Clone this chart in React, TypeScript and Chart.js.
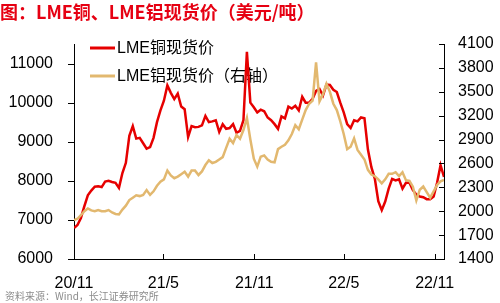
import React, { useEffect, useRef } from "react";
import { Chart, registerables } from "chart.js";
Chart.register(...registerables);

// Weekly observation dates
const dates = [
  "2020-11-01","2020-11-08","2020-11-15","2020-11-22","2020-11-29",
  "2020-12-06","2020-12-13","2020-12-20","2020-12-27",
  "2021-01-03","2021-01-10","2021-01-17","2021-01-24","2021-01-31",
  "2021-02-07","2021-02-14","2021-02-21","2021-02-28",
  "2021-03-07","2021-03-14","2021-03-21","2021-03-28",
  "2021-04-04","2021-04-11","2021-04-18","2021-04-25",
  "2021-05-02","2021-05-09","2021-05-16","2021-05-23","2021-05-30",
  "2021-06-06","2021-06-13","2021-06-20","2021-06-27",
  "2021-07-04","2021-07-11","2021-07-18","2021-07-25",
  "2021-08-01","2021-08-08","2021-08-15","2021-08-22","2021-08-29",
  "2021-09-05","2021-09-12","2021-09-19","2021-09-26",
  "2021-10-03","2021-10-10","2021-10-17","2021-10-24","2021-10-31",
  "2021-11-07","2021-11-14","2021-11-21","2021-11-28",
  "2021-12-05","2021-12-12","2021-12-19","2021-12-26",
  "2022-01-02","2022-01-09","2022-01-16","2022-01-23","2022-01-30",
  "2022-02-06","2022-02-13","2022-02-20","2022-02-27",
  "2022-03-06","2022-03-13","2022-03-20","2022-03-27",
  "2022-04-03","2022-04-10","2022-04-17","2022-04-24",
  "2022-05-01","2022-05-08","2022-05-15","2022-05-22","2022-05-29",
  "2022-06-05","2022-06-12","2022-06-19","2022-06-26",
  "2022-07-03","2022-07-10","2022-07-17","2022-07-24","2022-07-31",
  "2022-08-07","2022-08-14","2022-08-21","2022-08-28",
  "2022-09-04","2022-09-11","2022-09-18","2022-09-25",
  "2022-10-02","2022-10-09","2022-10-16","2022-10-23","2022-10-30",
  "2022-11-06","2022-11-13","2022-11-20",
];

// LME copper spot, USD/t (left axis)
const copper = [
  6790, 6870, 7050, 7350, 7630, 7750, 7850, 7860, 7840, 7980,
  8000, 7970, 7950, 7820, 8200, 8460, 9150, 9400, 9080, 9100,
  8960, 8820, 8860, 9100, 9500, 9800, 10050, 10440, 10250, 10090,
  10230, 9900, 9830, 9120, 9400, 9370, 9380, 9420, 9660, 9500,
  9520, 9550, 9250, 9450, 9330, 9350, 9450, 9230, 9280, 9550,
  11300, 10000, 9880, 9750, 9820, 9780, 9620, 9550, 9450, 9330,
  9650, 9600, 9900, 9850, 9920, 9800, 10150, 10000, 10000, 10100,
  10300, 10350, 10180, 10460, 10450, 10330, 10270, 10000, 9750, 9450,
  9350, 9550, 9520, 9620, 9600, 8800, 8350, 8050, 7480, 7250,
  7470, 7800, 8050, 8010, 8040, 7800, 7950, 7950, 7760, 7650,
  7600, 7580, 7530, 7530, 7600, 7950, 8400, 8100,
];

// LME aluminium spot, USD/t (right axis)
const aluminum = [
  1890, 1905, 1950, 2000, 2035, 2010, 2000, 2015, 2000, 2000,
  2015, 1985, 1965, 1960, 2020, 2070, 2140, 2170, 2200, 2190,
  2204, 2265, 2205, 2250, 2320, 2370, 2400, 2510, 2450, 2415,
  2435, 2465, 2495, 2435, 2510, 2510, 2455, 2500, 2580, 2640,
  2605, 2620, 2650, 2680, 2795, 2910, 2855, 2957, 2910, 3020,
  3170, 2900, 2660, 2560, 2685, 2700, 2650, 2622, 2615, 2780,
  2810, 2835, 2890, 2970, 3080, 3030, 3150, 3270, 3350, 3390,
  3870, 3380, 3470, 3600, 3500, 3350, 3270, 3130, 2970, 2780,
  2810, 2915, 2770, 2710, 2650, 2520, 2460, 2440, 2400, 2350,
  2400, 2470, 2470, 2490, 2440, 2490, 2390, 2380, 2308, 2135,
  2270, 2310, 2240, 2170, 2250, 2330, 2375, 2395,
];

const xTickDates = ["2020-11-01", "2021-05-01", "2021-11-01", "2022-05-01", "2022-11-01"];
const xTickLabels = ["20/11", "21/5", "21/11", "22/5", "22/11"];
const leftTicks = [6000, 7000, 8000, 9000, 10000, 11000];
const rightTicks = [1400, 1700, 2000, 2300, 2600, 2900, 3200, 3500, 3800, 4100];
const seriesNames = ["LME铜现货价", "LME铝现货价（右轴）"];
const titleText = "图：LME铜、LME铝现货价（美元/吨）";
const sourceText = "资料来源：Wind，长江证券研究所";

const START = "2020-11-01";
const END = "2022-11-20";
const DAY = 86400000;
const dayOf = (s: string) => {
  const [y, m, d] = s.split("-").map(Number);
  const [y0, m0, d0] = START.split("-").map(Number);
  return (Date.UTC(y, m - 1, d) - Date.UTC(y0, m0 - 1, d0)) / DAY;
};

const COPPER = "#E60000";
const ALU = "#E2B86F";
const TICK_FONT = { family: "'Liberation Sans', Arial, sans-serif", size: 16 };

export default function App() {
  const ref = useRef<HTMLCanvasElement | null>(null);

  useEffect(() => {
    document.body.style.margin = "0";
    const canvas = ref.current;
    if (!canvas) return;

    const tickMarks = {
      id: "tickMarks",
      afterDraw(chart: any) {
        const { ctx, chartArea, scales } = chart;
        ctx.save();
        ctx.strokeStyle = "#000";
        ctx.lineWidth = 1;
        ctx.beginPath();
        scales.y.ticks.forEach((t: any) => {
          const y = Math.round(scales.y.getPixelForValue(t.value)) + 0.5;
          ctx.moveTo(chartArea.left - 6, y);
          ctx.lineTo(chartArea.left, y);
        });
        scales.y1.ticks.forEach((t: any) => {
          const y = Math.round(scales.y1.getPixelForValue(t.value)) + 0.5;
          ctx.moveTo(chartArea.right - 5, y);
          ctx.lineTo(chartArea.right, y);
        });
        scales.x.ticks.forEach((t: any) => {
          const x = Math.round(scales.x.getPixelForValue(t.value)) + 0.5;
          ctx.moveTo(x, chartArea.bottom - 5);
          ctx.lineTo(x, chartArea.bottom);
        });
        ctx.stroke();
        ctx.restore();
      },
    };

    const legendPlugin = {
      id: "customLegend",
      beforeDatasetsDraw(chart: any) {
        const { ctx, chartArea } = chart;
        ctx.save();
        const colors = [COPPER, ALU];
        const rows = [48, 76];
        ctx.font = "16px 'Liberation Sans', 'Noto Sans CJK SC', sans-serif";
        ctx.textBaseline = "middle";
        ctx.textAlign = "left";
        seriesNames.forEach((name, i) => {
          const y = rows[i];
          ctx.strokeStyle = colors[i];
          ctx.lineWidth = 3;
          ctx.beginPath();
          ctx.moveTo(chartArea.left + 16, y);
          ctx.lineTo(chartArea.left + 41, y);
          ctx.stroke();
          ctx.fillStyle = "#000";
          ctx.fillText(name, chartArea.left + 43, y + 1);
        });
        ctx.restore();
      },
    };

    const chart = new Chart(canvas, {
      type: "line",
      data: {
        datasets: [
          {
            label: seriesNames[1],
            data: dates.map((d, i) => ({ x: dayOf(d), y: aluminum[i] })),
            borderColor: ALU,
            borderWidth: 2.5,
            pointRadius: 0,
            tension: 0,
            yAxisID: "y1",
          },
          {
            label: seriesNames[0],
            data: dates.map((d, i) => ({ x: dayOf(d), y: copper[i] })),
            borderColor: COPPER,
            borderWidth: 2.5,
            pointRadius: 0,
            tension: 0,
            yAxisID: "y",
          },
        ],
      },
      options: {
        responsive: false,
        animation: false,
        devicePixelRatio: 1,
        layout: { padding: { top: 44, left: 0, right: 0, bottom: 0 } },
        plugins: { legend: { display: false }, tooltip: { enabled: false }, title: { display: false } },
        scales: {
          x: {
            type: "linear",
            min: 0,
            max: dayOf(END),
            grid: { display: false, drawTicks: false },
            border: { display: true, color: "#000", width: 1 },
            afterBuildTicks: (s: any) => {
              s.ticks = xTickDates.map((d) => ({ value: dayOf(d) }));
            },
            afterFit: (s: any) => {
              s.height = 44;
            },
            ticks: {
              autoSkip: false,
              maxRotation: 0,
              padding: 15,
              color: "#000",
              font: TICK_FONT,
              callback: (_v: any, i: number) => xTickLabels[i],
            },
          },
          y: {
            type: "linear",
            position: "left",
            min: 6000,
            max: 11500,
            grid: { display: false, drawTicks: false },
            border: { display: true, color: "#000", width: 1 },
            afterBuildTicks: (s: any) => {
              s.ticks = leftTicks.map((v) => ({ value: v }));
            },
            afterFit: (s: any) => {
              s.width = 74;
            },
            ticks: { padding: 21, color: "#000", font: TICK_FONT, callback: (v: any) => String(v) },
          },
          y1: {
            type: "linear",
            position: "right",
            min: 1400,
            max: 4100,
            grid: { display: false, drawTicks: false },
            border: { display: true, color: "#000", width: 1 },
            afterBuildTicks: (s: any) => {
              s.ticks = rightTicks.map((v) => ({ value: v }));
            },
            afterFit: (s: any) => {
              s.width = 56;
            },
            ticks: { padding: 14, color: "#000", font: TICK_FONT, callback: (v: any) => String(v) },
          },
        },
      },
      plugins: [tickMarks, legendPlugin],
    });

    return () => chart.destroy();
  }, []);

  return (
    <div style={{ position: "relative", width: 500, height: 303, background: "#fff", overflow: "hidden" }}>
      <canvas ref={ref} width={500} height={303} style={{ position: "absolute", left: 0, top: 0, width: 500, height: 303 }} />
      <div
        style={{
          position: "absolute",
          left: 0,
          top: 0,
          fontFamily: "'Noto Sans CJK SC', sans-serif",
          fontWeight: 700,
          fontSize: 18,
          lineHeight: "22px",
          color: "#E60012",
          whiteSpace: "nowrap",
        }}
      >
        {titleText}
      </div>
      <div
        style={{
          position: "absolute",
          left: 5,
          top: 289,
          fontFamily: "'Noto Sans CJK SC', sans-serif",
          fontSize: 10,
          lineHeight: "14px",
          color: "#8C8C8C",
          whiteSpace: "nowrap",
        }}
      >
        {sourceText}
      </div>
    </div>
  );
}
